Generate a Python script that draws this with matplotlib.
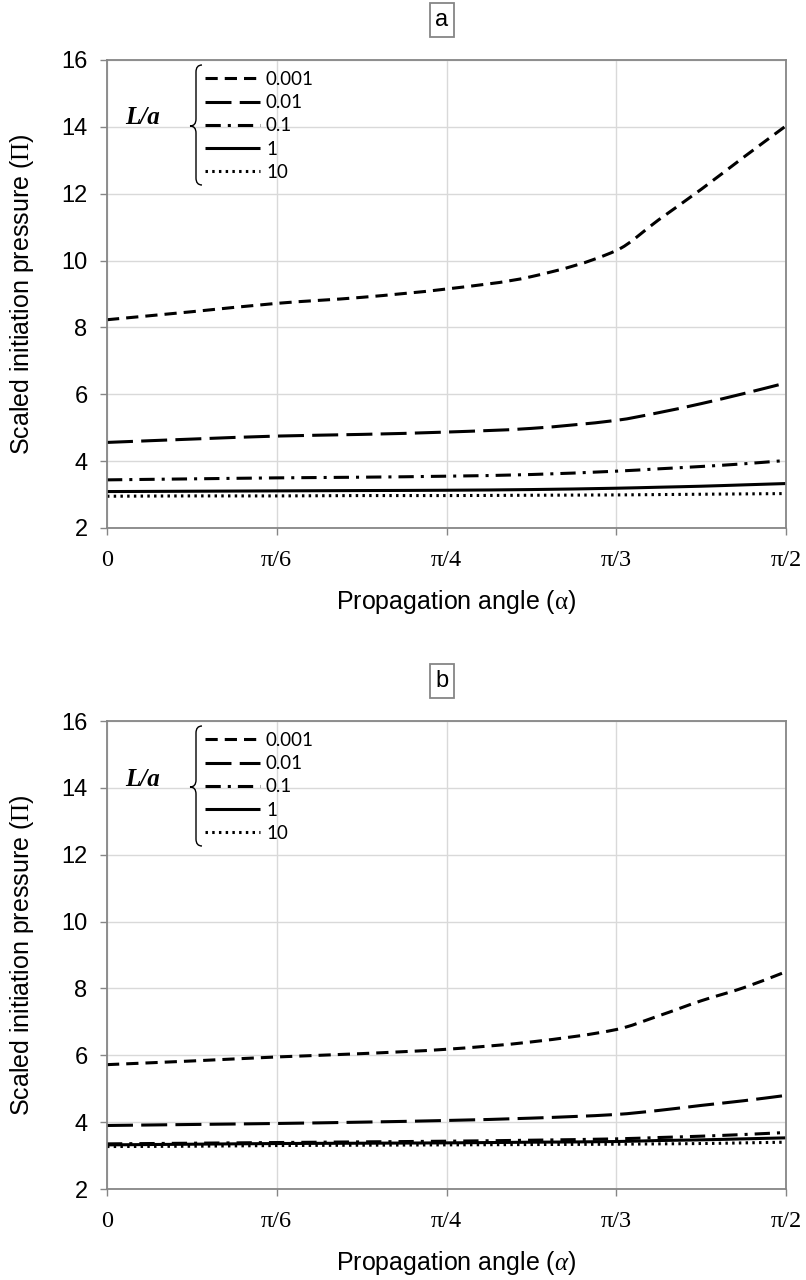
import numpy as np
import matplotlib
matplotlib.use('Agg')
import matplotlib.pyplot as plt
from matplotlib.path import Path
from matplotlib.patches import PathPatch
from matplotlib.lines import Line2D

plt.rcParams['font.family'] = ['Liberation Sans', 'DejaVu Sans']
plt.rcParams['mathtext.fontset'] = 'custom'
plt.rcParams['mathtext.rm'] = 'Liberation Serif'
plt.rcParams['mathtext.it'] = 'Liberation Serif:italic'
plt.rcParams['mathtext.bf'] = 'Liberation Serif:bold'

# ---------------- data ----------------
x_ticklabels = ['0', 'π/6', 'π/4', 'π/3', 'π/2']
x_pos = [0, 0.5, 1, 1.5, 2, 2.5, 3, 3.25, 3.5, 3.75, 4]
ratio_labels = ['0.001', '0.01', '0.1', '1', '10']

a_0001 = [8.23, 8.47, 8.72, 8.90, 9.15, 9.52, 10.30, 11.22, 12.13, 13.09, 14.03]
a_001 = [4.56, 4.66, 4.75, 4.80, 4.87, 4.98, 5.22, 5.45, 5.72, 6.02, 6.34]
a_01 = [3.44, 3.47, 3.50, 3.52, 3.55, 3.60, 3.70, 3.77, 3.84, 3.92, 4.02]
a_1 = [3.09, 3.10, 3.11, 3.12, 3.13, 3.15, 3.19, 3.22, 3.25, 3.29, 3.33]
a_10 = [2.95, 2.96, 2.96, 2.97, 2.97, 2.98, 2.99, 3.00, 3.01, 3.02, 3.03]

b_0001 = [5.72, 5.83, 5.95, 6.05, 6.18, 6.40, 6.77, 7.18, 7.63, 8.02, 8.50]
b_001 = [3.90, 3.93, 3.96, 4.00, 4.05, 4.12, 4.23, 4.35, 4.50, 4.64, 4.80]
b_01 = [3.35, 3.37, 3.39, 3.41, 3.43, 3.46, 3.50, 3.54, 3.58, 3.63, 3.69]
b_1 = [3.32, 3.34, 3.36, 3.37, 3.38, 3.40, 3.42, 3.45, 3.47, 3.50, 3.53]
b_10 = [3.27, 3.28, 3.30, 3.31, 3.32, 3.33, 3.34, 3.35, 3.36, 3.38, 3.40]

y_ticks = [2, 4, 6, 8, 10, 12, 14, 16]

# ---------------- styles ----------------
styles = [(0, (4.0, 2.3)), (0, (8.5, 2.7)), (0, (5, 2.3, 1, 2.3)), '-', (0, (0.8, 1.4))]
LW = 2.2
GRAY = '#868686'
GRID = '#d9d9d9'

W, H = 806, 1280
fig = plt.figure(figsize=(W / 100, H / 100), dpi=100)

AX_L, AX_R = 107, 786
AX_H = 468
AXW = AX_R - AX_L
panels = [
    ('a', 60, [a_0001, a_001, a_01, a_1, a_10], r'Propagation angle ($\mathrm{α}$)'),
    ('b', 721, [b_0001, b_001, b_01, b_1, b_10], r'Propagation angle ($\mathit{α}$)'),
]


def fx(px):
    return (px - AX_L) / AXW


def fy(off):
    return 1 - off / AX_H


def smooth_line_path(xs, ys):
    """Smoothed line (cubic Hermite as Bezier) passing through every data point."""
    xs = np.asarray(xs, float)
    ys = np.asarray(ys, float)
    n = len(xs)
    slopes = np.empty(n)
    slopes[0] = (ys[1] - ys[0]) / (xs[1] - xs[0])
    slopes[-1] = (ys[-1] - ys[-2]) / (xs[-1] - xs[-2])
    for i in range(1, n - 1):
        slopes[i] = (ys[i + 1] - ys[i - 1]) / (xs[i + 1] - xs[i - 1])
    verts = [(xs[0], ys[0])]
    codes = [Path.MOVETO]
    for i in range(n - 1):
        h = xs[i + 1] - xs[i]
        c1 = (xs[i] + h / 3, ys[i] + slopes[i] * h / 3)
        c2 = (xs[i + 1] - h / 3, ys[i + 1] - slopes[i + 1] * h / 3)
        verts += [c1, c2, (xs[i + 1], ys[i + 1])]
        codes += [Path.CURVE4] * 3
    return Path(verts, codes)


def draw_brace(ax):
    x_tip, x_mid, x_end = fx(190), fx(196), fx(202)
    y_top, y_tip, y_bot = fy(5), fy(66), fy(125)
    ry = 7 / AX_H
    verts = [(x_end, y_top), (x_mid, y_top), (x_mid, y_top - ry),
             (x_mid, y_tip + ry), (x_mid, y_tip), (x_tip, y_tip),
             (x_mid, y_tip), (x_mid, y_tip - ry),
             (x_mid, y_bot + ry), (x_mid, y_bot), (x_end, y_bot)]
    codes = [Path.MOVETO, Path.CURVE3, Path.CURVE3,
             Path.LINETO, Path.CURVE3, Path.CURVE3,
             Path.CURVE3, Path.CURVE3,
             Path.LINETO, Path.CURVE3, Path.CURVE3]
    patch = PathPatch(Path(verts, codes), transform=ax.transAxes, fill=False,
                      edgecolor='black', lw=1.0, clip_on=False)
    ax.add_patch(patch)


for letter, top_px, series, xlabel in panels:
    bottom_px = top_px + AX_H
    ax = fig.add_axes([AX_L / W, 1 - bottom_px / H, AXW / W, AX_H / H])
    handles = []
    for vals, ls, lab in zip(series, styles, ratio_labels):
        patch = PathPatch(smooth_line_path(x_pos, vals), fill=False, edgecolor='black',
                          lw=LW, linestyle=ls, capstyle='butt', joinstyle='round')
        ax.add_patch(patch)
        handles.append(Line2D([], [], color='black', lw=LW, linestyle=ls, label=lab,
                              dash_capstyle='butt', solid_capstyle='butt'))
    ax.set_xlim(0, 4)
    ax.set_ylim(2, 16)
    ax.set_xticks(range(len(x_ticklabels)))
    ax.set_xticklabels(x_ticklabels, fontfamily='Liberation Serif', fontsize=17.5)
    ax.set_yticks(y_ticks)
    ax.set_yticklabels([str(v) for v in y_ticks], fontsize=17)
    ax.grid(True, color=GRID, lw=1.0)
    ax.set_axisbelow(True)
    for sp in ax.spines.values():
        sp.set_color(GRAY)
        sp.set_linewidth(1.3)
    ax.tick_params(axis='both', direction='out', length=5, width=1.0, color=GRAY)
    ax.tick_params(axis='y', pad=9)
    ax.tick_params(axis='x', pad=11)

    ax.set_ylabel('Scaled initiation pressure ($\\mathrm{Π}$)', fontsize=18)
    ax.yaxis.set_label_coords(fx(36), 0.5)
    ax.set_xlabel(xlabel, fontsize=18)
    ax.xaxis.set_label_coords(fx(456), -(588 - 528) / AX_H)

    ax.legend(handles=handles, loc='upper left', bbox_to_anchor=(fx(205), fy(11)),
              frameon=False, prop={'family': 'Lato', 'size': 13.5},
              handlelength=2.95, handletextpad=0.3, labelspacing=0.33,
              borderpad=0, borderaxespad=0)
    draw_brace(ax)
    ax.text(fx(143), fy(58), 'L/a', transform=ax.transAxes, ha='center', va='center',
            fontfamily='Liberation Serif', fontweight='bold', fontstyle='italic', fontsize=18)

    ax.text(fx(442), 1 + 40 / AX_H, letter, transform=ax.transAxes,
            ha='center', va='center', fontsize=17,
            bbox=dict(boxstyle='square,pad=0.25', facecolor='white', edgecolor=GRAY, lw=1.3))

fig.savefig('out.png', dpi=100)
